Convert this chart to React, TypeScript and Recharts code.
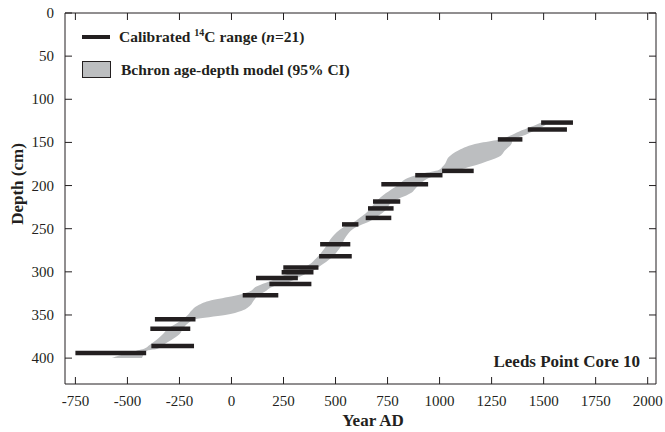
import React from 'react';
import { ComposedChart, Area, XAxis, YAxis, ReferenceLine } from 'recharts';

// calibrated 14C ranges: depth (cm), oldest / youngest year AD
const dateDepth = [394, 386, 366, 355, 327, 314, 307, 300.5, 295, 282, 268, 245, 237.5, 226.5, 218.5, 198.5, 188, 183, 146.5, 135, 127];
const dateFrom = [-750, -385, -390, -368, 54, 182, 118, 241, 249, 421, 426, 531, 645, 656, 680, 720, 883, 1012, 1280, 1424, 1488];
const dateTo = [-410, -180, -198, -173, 225, 384, 319, 394, 418, 578, 571, 610, 768, 779, 811, 945, 1014, 1164, 1398, 1612, 1641];

// Bchron 95% envelope
const bandDepth = [127, 130, 136, 141.5, 147, 151, 159, 167, 174, 178, 182, 186, 190, 199.5, 209, 219, 228.5, 236, 242, 248, 259.5, 271, 283, 294, 300, 306, 311, 317, 323, 328, 333, 339, 345, 350, 355, 360, 366, 372, 379, 385, 389, 391, 394, 397, 400];
const bandOld = [1490, 1459, 1395, 1347, 1283, 1188, 1092, 1044, 1028, 1015, 996, 920, 860, 800, 741, 693, 661, 625, 590, 540, 484, 453, 412, 357, 300, 230, 185, 120, 85, 10, -97, -162, -193, -210, -235, -265, -305, -329, -361, -395, -420, -450, -490, -540, -575];
const bandYoung = [1523, 1507, 1459, 1411, 1350, 1347, 1315, 1283, 1203, 1150, 1092, 1010, 960, 900, 860, 772, 741, 700, 660, 600, 549, 525, 483, 421, 380, 325, 285, 200, 160, 125, 108, 90, 50, -30, -175, -210, -233, -249, -289, -330, -355, -400, -420, -425, -430];

const yearTicks = [-750, -500, -250, 0, 250, 500, 750, 1000, 1250, 1500, 1750, 2000];
const depthTicks = [0, 50, 100, 150, 200, 250, 300, 350, 400];

const band = bandDepth.map((d, i) => ({ depth: d, range: [bandOld[i], bandYoung[i]] }));
const dates = dateDepth.map((d, i) => ({ depth: d, from: dateFrom[i], to: dateTo[i] }));

const ink = '#231f20';
const grey = '#bcbec0';
const serif = '"Liberation Serif", "Times New Roman", serif';
const TICK = 7;
const GAP = 11;

// ticks point into the plot on all four sides
const BottomTick = (p: any) => (
  <g>
    <line x1={p.x} x2={p.x} y1={p.y - GAP} y2={p.y - GAP - TICK} stroke={ink} />
    <text x={p.x} y={p.y} dy="0.75em" textAnchor="middle" fontSize={15} fill={ink} fontFamily={serif}>{p.payload.value}</text>
  </g>
);
const LeftTick = (p: any) => (
  <g>
    <line x1={p.x + GAP} x2={p.x + GAP + TICK} y1={p.y} y2={p.y} stroke={ink} />
    <text x={p.x} y={p.y} dy="0.33em" textAnchor="end" fontSize={15} fill={ink} fontFamily={serif}>{p.payload.value}</text>
  </g>
);
const TopTick = (p: any) => <line x1={p.x} x2={p.x} y1={p.y} y2={p.y + TICK} stroke={ink} />;
const RightTick = (p: any) => <line x1={p.x} x2={p.x - TICK} y1={p.y} y2={p.y} stroke={ink} />;

export default function App() {
  return (
    <div style={{ position: 'absolute', left: 0, top: 0, width: 665, height: 432, fontFamily: serif, color: ink, background: '#fff' }}>
      <ComposedChart width={665} height={432} layout="vertical" data={band} margin={{ top: 0, right: 0, bottom: 0, left: 0 }}>
        <XAxis xAxisId="bottom" type="number" orientation="bottom" domain={[-800, 2040]} ticks={yearTicks}
          allowDataOverflow height={48} tickSize={0} tickMargin={GAP} tickLine={false} stroke={ink} tick={BottomTick} interval={0} />
        <XAxis xAxisId="top" type="number" orientation="top" domain={[-800, 2040]} ticks={yearTicks}
          allowDataOverflow height={13} tickSize={0} tickMargin={0} tickLine={false} stroke={ink} tick={TopTick} interval={0} />
        <YAxis yAxisId="left" type="number" dataKey="depth" orientation="left" domain={[0, 430]} ticks={depthTicks}
          allowDataOverflow width={65} tickSize={0} tickMargin={GAP} tickLine={false} stroke={ink} tick={LeftTick} interval={0} />
        <YAxis yAxisId="right" type="number" dataKey="depth" orientation="right" domain={[0, 430]} ticks={depthTicks}
          allowDataOverflow width={9} tickSize={0} tickMargin={0} tickLine={false} stroke={ink} tick={RightTick} interval={0} />
        <Area xAxisId="bottom" yAxisId="left" dataKey="range" type="monotone" stroke="none" fill={grey}
          fillOpacity={1} isAnimationActive={false} />
        {dates.map((r, i) => (
          <ReferenceLine key={i} xAxisId="bottom" yAxisId="left" stroke={ink} strokeWidth={4.5}
            segment={[{ x: r.from, y: r.depth }, { x: r.to, y: r.depth }]} />
        ))}
      </ComposedChart>

      <div style={{ position: 'absolute', left: 82, top: 28, height: 18, display: 'flex', alignItems: 'center', fontWeight: 'bold', fontSize: 15.5, whiteSpace: 'nowrap' }}>
        <span style={{ display: 'inline-block', width: 28, height: 4.5, background: ink, marginRight: 9 }} />
        <span>Calibrated <sup style={{ fontSize: 10, lineHeight: 0 }}>14</sup>C range (<i>n</i>=21)</span>
      </div>
      <div style={{ position: 'absolute', left: 82, top: 61, height: 17, display: 'flex', alignItems: 'center', fontWeight: 'bold', fontSize: 15.5, whiteSpace: 'nowrap' }}>
        <span style={{ display: 'inline-block', width: 27, height: 15, background: grey, border: `1px solid ${ink}`, marginRight: 10 }} />
        <span>Bchron age-depth model (95% CI)</span>
      </div>

      <div style={{ position: 'absolute', right: 25, top: 353, fontWeight: 'bold', fontSize: 17, lineHeight: '18px', whiteSpace: 'nowrap' }}>
        Leeds Point Core 10
      </div>
      <div style={{ position: 'absolute', left: 373, top: 421, transform: 'translate(-50%, -50%)', fontWeight: 'bold', fontSize: 17, whiteSpace: 'nowrap' }}>
        Year AD
      </div>
      <div style={{ position: 'absolute', left: 18, top: 184, transform: 'translate(-50%, -50%) rotate(-90deg)', fontWeight: 'bold', fontSize: 17, whiteSpace: 'nowrap' }}>
        Depth (cm)
      </div>
    </div>
  );
}
